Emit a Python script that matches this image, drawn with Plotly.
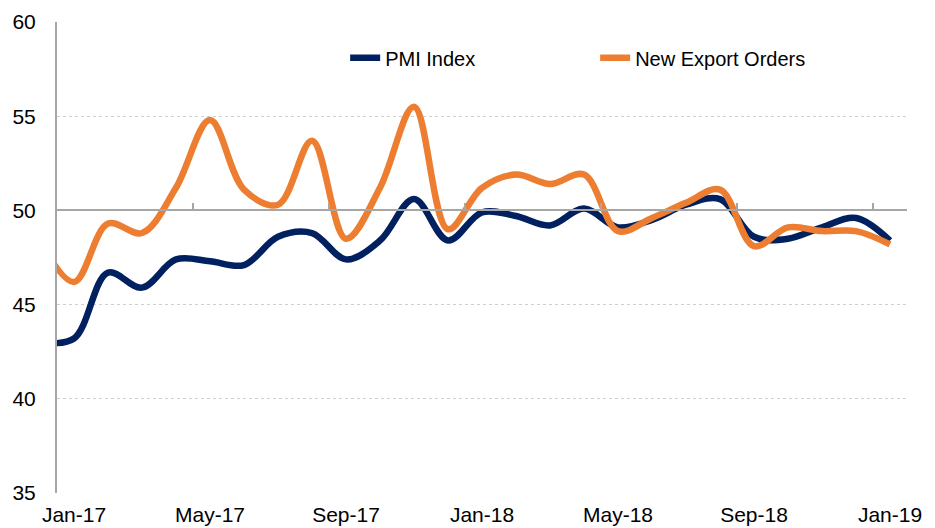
import plotly.graph_objects as go

# Months: first entry (Dec-16) lies just outside the visible range
months = ["Dec-16",
          "Jan-17", "Feb-17", "Mar-17", "Apr-17", "May-17", "Jun-17", "Jul-17", "Aug-17",
          "Sep-17", "Oct-17", "Nov-17", "Dec-17", "Jan-18", "Feb-18", "Mar-18", "Apr-18",
          "May-18", "Jun-18", "Jul-18", "Aug-18", "Sep-18", "Oct-18", "Nov-18", "Dec-18",
          "Jan-19"]
pmi_index = [43.0,
             43.2, 46.7, 45.9, 47.4, 47.3, 47.1, 48.6, 48.8,
             47.4, 48.4, 50.6, 48.4, 49.9, 49.7, 49.2, 50.1,
             49.1, 49.5, 50.3, 50.6, 48.6, 48.5, 49.1, 49.6,
             48.4]
new_export_orders = [48.4,
                     46.2, 49.3, 48.8, 51.2, 54.8, 51.1, 50.3, 53.7,
                     48.5, 51.2, 55.5, 49.0, 51.2, 51.9, 51.4, 51.9,
                     48.9, 49.6, 50.4, 51.1, 48.1, 49.1, 48.9, 48.9,
                     48.2]
tick_labels = ["Jan-17", "May-17", "Sep-17", "Jan-18", "May-18", "Sep-18", "Jan-19"]
y_ticks = [35, 40, 45, 50, 55, 60]

x_idx = list(range(-1, len(months) - 1))
label_pos = [x_idx[months.index(m)] for m in tick_labels]
boundary_ticks = [p - 0.5 for p in label_pos[1:]]

NAVY = "#002060"
ORANGE = "#ED7D31"
FONT = "Liberation Sans, Arial, sans-serif"

fig = go.Figure()
fig.add_trace(go.Scatter(x=x_idx, y=pmi_index, name="PMI Index", mode="lines",
                         line=dict(color=NAVY, width=6.5, shape="spline", smoothing=1.0)))
fig.add_trace(go.Scatter(x=x_idx, y=new_export_orders, name="New Export Orders", mode="lines",
                         line=dict(color=ORANGE, width=6.5, shape="spline", smoothing=1.0)))
# carrier for the axis drawn through 50
fig.add_trace(go.Scatter(x=[x_idx[1]], y=[50], xaxis="x2", yaxis="y", mode="markers",
                         marker=dict(opacity=0), showlegend=False, hoverinfo="skip"))

xr = [-0.5, x_idx[-1] + 0.5]
fig.update_layout(
    width=935, height=528,
    margin=dict(l=49, r=36, t=14, b=43, autoexpand=False),
    plot_bgcolor="white", paper_bgcolor="white",
    font=dict(family=FONT, size=20, color="#000000"),
    xaxis=dict(range=xr, tickmode="array", tickvals=label_pos, ticktext=tick_labels,
               showgrid=False, zeroline=False, showline=False, ticks="",
               ticklabelstandoff=7, tickfont=dict(size=21), automargin=False),
    xaxis2=dict(range=xr, overlaying="x", anchor="free", position=(50 - 35) / (60 - 35),
                side="top", tickmode="array", tickvals=boundary_ticks,
                ticks="outside", ticklen=6, tickwidth=1.5, tickcolor="#a6a6a6",
                showticklabels=False, showgrid=False, zeroline=False,
                showline=True, linecolor="#a6a6a6", linewidth=2, automargin=False),
    yaxis=dict(range=[35, 60], tickmode="array", tickvals=y_ticks,
               showgrid=True, gridcolor="#cfcfcf", griddash="dot", gridwidth=1,
               zeroline=False, showline=True, linecolor="#a6a6a6", linewidth=2,
               ticks="", ticklabelstandoff=15, tickfont=dict(size=21), automargin=False),
    legend=dict(orientation="h", x=0.339, xanchor="left", y=0.924, yanchor="middle",
                font=dict(size=20), bgcolor="rgba(0,0,0,0)", entrywidth=205,
                traceorder="normal"),
    showlegend=True,
)

fig.write_html("out.html")
